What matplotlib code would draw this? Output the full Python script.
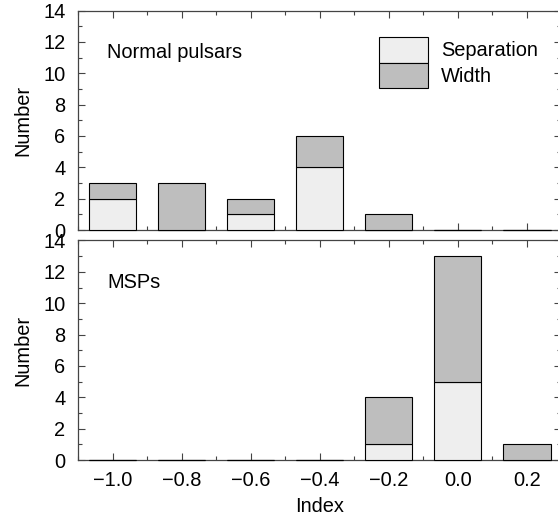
import matplotlib
matplotlib.use("Agg")
import matplotlib.pyplot as plt
from matplotlib.ticker import MultipleLocator, FuncFormatter

plt.rcParams['font.family'] = ['Liberation Sans', 'DejaVu Sans']
plt.rcParams['axes.unicode_minus'] = True

index_bins = [-1.0, -0.8, -0.6, -0.4, -0.2, 0.0, 0.2]
normal_separation = [2, 0, 1, 4, 0, 0, 0]
normal_width = [1, 3, 1, 2, 1, 0, 0]
msp_separation = [0, 0, 0, 0, 1, 5, 0]
msp_width = [0, 0, 0, 0, 3, 8, 1]
panel_titles = ["Normal pulsars", "MSPs"]
series_labels = ["Separation", "Width"]

sep_color = '#eeeeee'
wid_color = '#bebebe'
spine_color = '#444444'
fs = 14.4

fig = plt.figure(figsize=(5.58, 5.19), dpi=100)
left = 78 / 558
right = 561.4 / 558
ax1 = fig.add_axes([left, 1 - 230 / 519, right - left, (230 - 10.5) / 519])
ax2 = fig.add_axes([left, 1 - 460 / 519, right - left, (460 - 240.5) / 519])


def fmt(v, pos):
    s = '%.1f' % v
    if s == '-0.0':
        s = '0.0'
    return s.replace('-', '\u2212')


bw = 0.137
for ax, sep, wid, title in [(ax1, normal_separation, normal_width, panel_titles[0]),
                            (ax2, msp_separation, msp_width, panel_titles[1])]:
    b1 = ax.bar(index_bins, sep, width=bw, color=sep_color, edgecolor='black',
                linewidth=0.8, label=series_labels[0], zorder=3)
    b2 = ax.bar(index_bins, wid, bottom=sep, width=bw, color=wid_color, edgecolor='black',
                linewidth=0.8, label=series_labels[1], zorder=3)
    for p in list(b1) + list(b2):
        p.set_clip_on(False)
    ax.set_xlim(-1.1, 0.3)
    ax.set_ylim(0, 14)
    ax.xaxis.set_major_locator(MultipleLocator(0.2))
    ax.xaxis.set_minor_locator(MultipleLocator(0.1))
    ax.xaxis.set_major_formatter(FuncFormatter(fmt))
    ax.yaxis.set_major_locator(MultipleLocator(2))
    ax.yaxis.set_minor_locator(MultipleLocator(1))
    ax.tick_params(which='both', direction='in', top=True, right=True,
                   color=spine_color, labelsize=fs, width=0.8)
    ax.tick_params(which='major', length=5)
    ax.tick_params(which='minor', length=3)
    ax.tick_params(axis='y', pad=9)
    ax.tick_params(axis='x', pad=8)
    for s in ax.spines.values():
        s.set_color(spine_color)
        s.set_linewidth(0.9)
    ax.spines['right'].set_visible(False)
    ax.text(0.06, 0.81, title, transform=ax.transAxes, fontsize=fs,
            ha='left', va='center')
    ax.set_ylabel("Number", fontsize=fs)
    ax.yaxis.set_label_coords(-0.095, 0.5)

ax1.tick_params(axis='x', labelbottom=False)
ax2.set_xlabel("Index", fontsize=fs)
ax2.xaxis.set_label_coords(0.5, -0.17)

leg = ax1.legend(loc='upper left', bbox_to_anchor=(0.622, 0.879), frameon=False,
                 borderpad=0, borderaxespad=0, handlelength=2.45, handleheight=1.6,
                 labelspacing=0, handletextpad=0.65, fontsize=fs)

fig.savefig("out.png", dpi=100)
